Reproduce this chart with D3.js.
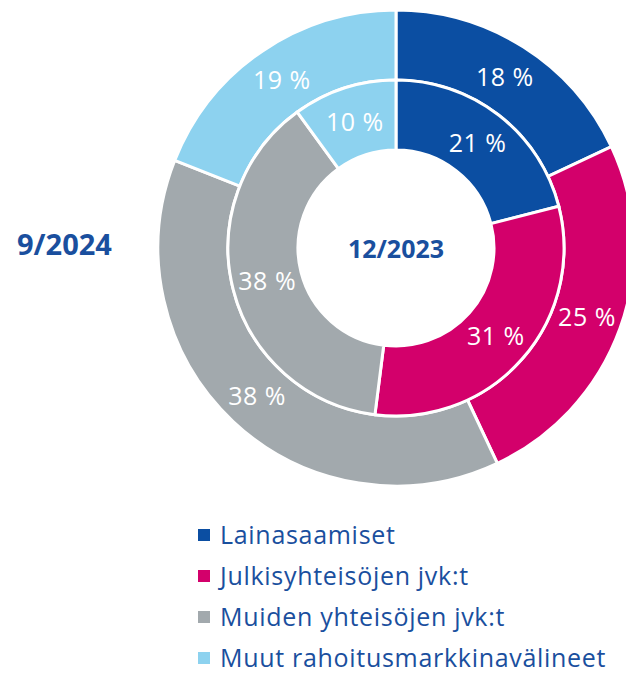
<!DOCTYPE html>
<html>
<head>
<meta charset="utf-8">
<script src="https://cdn.jsdelivr.net/npm/d3@7"></script>
<style>
  html, body { margin: 0; padding: 0; background: #fff; }
  svg { display: block; font-family: "Open Sans", "Noto Sans", sans-serif; }
</style>
</head>
<body>
<div id="chart"></div>
<script>
// ---------- Data ----------
const categories = [
  "Lainasaamiset",
  "Julkisyhteisöjen jvk:t",
  "Muiden yhteisöjen jvk:t",
  "Muut rahoitusmarkkinavälineet"
];
const outerValues = [18, 25, 38, 19];   // 9/2024
const innerValues = [21, 31, 38, 10];   // 12/2023
const outerLabel = "9/2024";
const innerLabel = "12/2023";
const colors = ["#0b4ea2", "#d3006b", "#a2a9ad", "#8dd2ef"];

// ---------- Layout ----------
const W = 626, H = 673;
const cx = 396, cy = 248;
const rHole = 98, rMid = 168, rOuter = 238;
const textBlue = "#1a4f9e";

const svg = d3.select("#chart").append("svg")
  .attr("width", W).attr("height", H);

const g = svg.append("g").attr("transform", `translate(${cx},${cy})`);

const pie = d3.pie().sort(null).value(d => d.v);
const color = d3.scaleOrdinal().domain(categories).range(colors);

function ring(values, r0, r1, cls) {
  const arc = d3.arc().innerRadius(r0).outerRadius(r1);
  const data = pie(values.map((v, i) => ({ k: categories[i], v })));
  const grp = g.append("g").attr("class", cls);
  grp.selectAll("path")
    .data(data)
    .join("path")
    .attr("d", arc)
    .attr("fill", d => color(d.data.k))
    .attr("stroke", "#fff")
    .attr("stroke-width", 3);
  grp.selectAll("text")
    .data(data)
    .join("text")
    .attr("transform", d => `translate(${arc.centroid(d)})`)
    .attr("text-anchor", "middle")
    .attr("dy", "0.36em")
    .attr("fill", "#fff")
    .style("font-size", "25px")
    .style("letter-spacing", "0.5px")
    .text(d => d.data.v + " %");
}

ring(outerValues, rMid, rOuter, "outer");
ring(innerValues, rHole, rMid, "inner");

// center + side titles
g.append("text")
  .attr("text-anchor", "middle")
  .attr("y", 1)
  .attr("dy", "0.36em")
  .attr("fill", textBlue)
  .style("font-size", "25px")
  .style("font-weight", "bold")
  .text(innerLabel);

svg.append("text")
  .attr("x", 17).attr("y", 245)
  .attr("dy", "0.36em")
  .attr("fill", textBlue)
  .style("font-size", "29px")
  .style("font-weight", "bold")
  .text(outerLabel);

// ---------- Legend ----------
const y = d3.scalePoint().domain(categories).range([535, 658]);
const leg = svg.append("g").attr("class", "legend");
const item = leg.selectAll("g")
  .data(categories)
  .join("g")
  .attr("transform", d => `translate(198,${y(d)})`);
item.append("rect")
  .attr("x", 0).attr("y", -6)
  .attr("width", 12).attr("height", 12)
  .attr("fill", d => color(d));
item.append("text")
  .attr("x", 22)
  .attr("dy", "0.36em")
  .attr("fill", textBlue)
  .style("font-size", "25px")
  .style("letter-spacing", "0.7px")
  .text(d => d);
</script>
</body>
</html>
